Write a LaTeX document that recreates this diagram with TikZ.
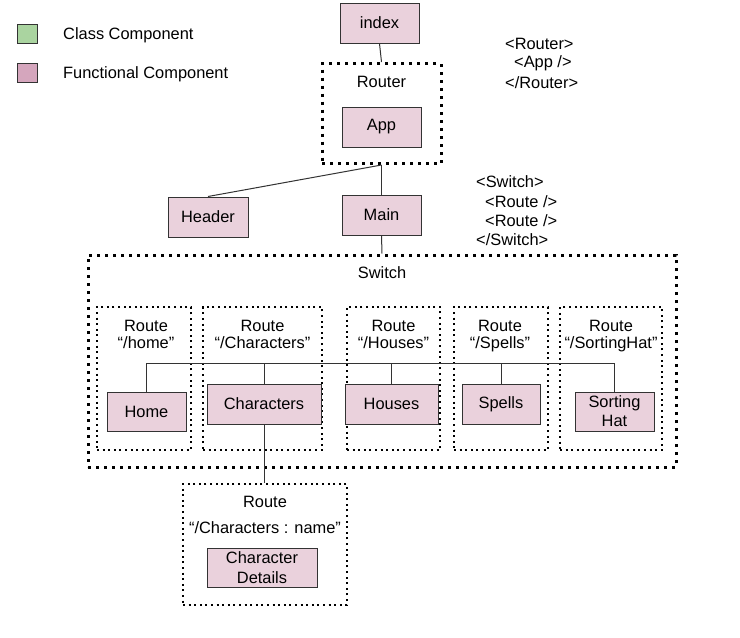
\documentclass[tikz,border=0pt]{standalone}
\usepackage{fontspec}
\setmainfont{Liberation Sans}
\definecolor{boxpink}{HTML}{EAD1DC}
\definecolor{legpink}{HTML}{D5A6BD}
\definecolor{leggreen}{HTML}{AAD4A0}
\definecolor{edge}{HTML}{333333}
\tikzset{
  comp/.style={draw=edge, line width=1pt, fill=boxpink, inner sep=0pt, align=center,
    font=\fontsize{16.4}{19}\selectfont},
  bigdots/.style={draw=black, line width=3pt, dash pattern=on 3pt off 5pt},
  finedots/.style={draw=black, line width=2pt, dash pattern=on 2pt off 3.6pt},
  lbl/.style={inner sep=0pt, align=center, font=\fontsize{16.4}{16.5}\selectfont},
  rl/.style={inner sep=0pt, anchor=base, font=\fontsize{16.4}{16.5}\selectfont},
  code/.style={inner sep=0pt, anchor=west, font=\fontsize{16.4}{19}\selectfont},
  conn/.style={draw=edge, line width=1pt},
  legbox/.style={draw=edge, line width=1pt, minimum width=20pt, minimum height=19pt, inner sep=0pt}
}
\begin{document}
\begin{tikzpicture}[x=1pt, y=-1pt]
\useasboundingbox[fill=white] (0,0) rectangle (740,638);

% legend
\node[legbox, fill=leggreen] (lgreen) at (27,33.5) {};
\node[legbox, fill=legpink] (lpink) at (27,72.5) {};
\node[code] (lgtxt) at (63,35) {Class Component};
\node[code] (lptxt) at (63,74) {Functional Component};

% code text
\node[code] (c1) at (505,44) {<Router>};
\node[code] (c2) at (514,63) {<App />};
\node[code] (c3) at (505,83) {</Router>};
\node[code] (s1) at (476,182) {<Switch>};
\node[code] (s2) at (485,202) {<Route />};
\node[code] (s3) at (485,221) {<Route />};
\node[code] (s4) at (476,240) {</Switch>};

% top
\node[comp, minimum width=79pt, minimum height=40pt] (index) at (379.5,23) {index};
\node[bigdots, minimum width=119pt, minimum height=100pt, inner sep=0pt] (router) at (381.5,113.5) {};
\node[lbl] (routerlbl) at (381.5,82) {Router};
\node[comp, minimum width=79pt, minimum height=40pt] (app) at (381.5,127) {App};
\node[comp, minimum width=80pt, minimum height=40pt] (header) at (208,217) {Header};
\node[comp, minimum width=79pt, minimum height=40pt] (main) at (381.5,215) {Main};

% switch
\node[bigdots, minimum width=588pt, minimum height=212pt, inner sep=0pt] (switch) at (382,361) {};
\node[lbl] (switchlbl) at (382,273) {Switch};

% routes
\node[finedots, minimum width=94pt, minimum height=143pt, inner sep=0pt] (r1) at (144,378.5) {};
\node[finedots, minimum width=119pt, minimum height=143pt, inner sep=0pt] (r2) at (262.5,378.5) {};
\node[finedots, minimum width=93pt, minimum height=143pt, inner sep=0pt] (r3) at (393.5,378.5) {};
\node[finedots, minimum width=94pt, minimum height=143pt, inner sep=0pt] (r4) at (501,378.5) {};
\node[finedots, minimum width=102pt, minimum height=143pt, inner sep=0pt] (r5) at (611,378.5) {};
\node[rl] (r1a) at (146,331.5) {Route};
\node[rl] (r1b) at (146,348) {“/home”};
\node[rl] (r2a) at (262.5,331.5) {Route};
\node[rl] (r2b) at (262.5,348) {“/Characters”};
\node[rl] (r3a) at (393.5,331.5) {Route};
\node[rl] (r3b) at (393.5,348) {“/Houses”};
\node[rl] (r4a) at (500,331.5) {Route};
\node[rl] (r4b) at (500,348) {“/Spells”};
\node[rl] (r5a) at (611,331.5) {Route};
\node[rl] (r5b) at (611,348) {“/SortingHat”};

\node[comp, minimum width=79pt, minimum height=39pt] (home) at (146.5,411.5) {Home};
\node[comp, minimum width=114pt, minimum height=40pt] (chars) at (264,404) {Characters};
\node[comp, minimum width=93pt, minimum height=40pt] (houses) at (391.5,404) {Houses};
\node[comp, minimum width=78pt, minimum height=40pt] (spells) at (501,404) {Spells};
\node[comp, minimum width=79pt, minimum height=39pt] (sorting) at (614.5,411.5) {Sorting\\Hat};

% character details route
\node[finedots, minimum width=164pt, minimum height=121pt, inner sep=0pt] (rcd) at (265,544.5) {};
\node[lbl] (rcdl1) at (265,502) {Route};
\node[lbl] (rcdl2) at (265,528) {“/Characters : name”};
\node[comp, minimum width=110pt, minimum height=39pt, font=\fontsize{16.4}{20}\selectfont] (details) at (262,567.5) {Character\\Details};

% connectors
\coordinate (busL) at (146.5,363);
\coordinate (busR) at (614.5,363);
\draw[conn] (index.south) -- (router.north);
\draw[conn] (router.south) -- (header.north);
\draw[conn] (router.south) -- (main.north);
\draw[conn] (main.south) -- (switch.north);
\draw[conn] (home.north) -- (busL) -- (busR) -- (sorting.north);
\draw[conn] (chars.north) -- (chars.north |- busL);
\draw[conn] (houses.north) -- (houses.north |- busL);
\draw[conn] (spells.north) -- (spells.north |- busL);
\draw[conn] (chars.south) -- (chars.south |- rcd.north);
\end{tikzpicture}
\end{document}
